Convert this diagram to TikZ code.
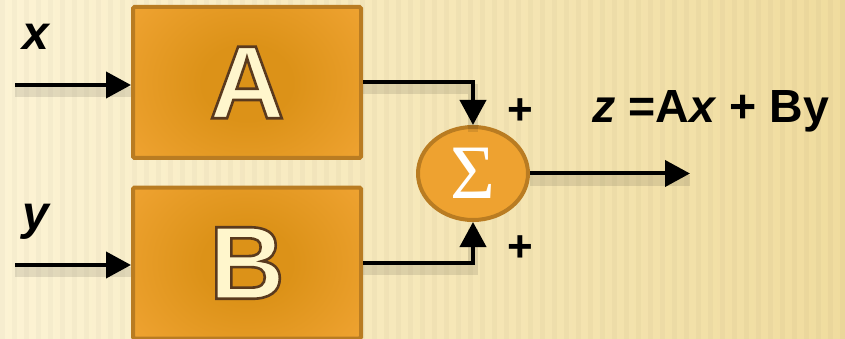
\documentclass[tikz,border=0pt]{standalone}
\usepackage{fontspec}
\setmainfont{Liberation Sans}
\newfontfamily\greekserif{Liberation Serif}
\usetikzlibrary{arrows.meta,shapes.geometric}
\definecolor{bgL}{HTML}{FCF3D4}
\definecolor{bgR}{HTML}{F0DC9E}
\definecolor{boxfill}{HTML}{EEA230}
\definecolor{boxline}{HTML}{B97C22}
\definecolor{glow}{HTML}{DC9218}
\definecolor{lettercol}{HTML}{FFF6CC}
\newcommand{\outlined}[1]{{\color{lettercol}\special{pdf:literal direct 2 Tr 2.6 w 0.353 0.227 0.118 RG}#1\special{pdf:literal direct 0 Tr}}}
\pgfdeclareradialshading{glowshade}{\pgfpoint{0bp}{0bp}}{color(0bp)=(glow); color(8bp)=(glow); color(25bp)=(boxfill); color(50bp)=(boxfill)}
\tikzset{
  blockbox/.style={draw=boxline, line width=4pt, fill=boxfill, rounded corners=1.5pt,
    minimum width=228pt, minimum height=151pt, inner sep=0pt,
    path picture={\shade[shading=glowshade]
      (path picture bounding box.center) ellipse (140pt and 118pt);},
    font=\bfseries\fontsize{104}{104}\selectfont},
  sumnode/.style={ellipse, draw=boxline, line width=4pt, fill=boxfill,
    minimum width=110pt, minimum height=93pt, inner sep=0pt,
    text=white, font=\greekserif\fontsize{77}{77}\selectfont},
  conn/.style={line width=4pt, -{Triangle[length=25pt,width=26pt]}},
  connshadow/.style={line width=10pt, black, opacity=0.10, transform canvas={yshift=-7pt}},
  lbl/.style={inner sep=0pt, font=\bfseries\itshape\fontsize{48}{48}\selectfont},
  eq/.style={inner sep=0pt, font=\bfseries\fontsize{46.5}{46.5}\selectfont},
  plus/.style={inner sep=0pt, font=\bfseries\fontsize{44}{44}\selectfont}
}
\begin{document}
\begin{tikzpicture}[x=1pt,y=-1pt]
\useasboundingbox (0,0) rectangle (845,339);
\clip (0,0) rectangle (845,339);
\shade[left color=bgL, right color=bgR] (0,0) rectangle (845,339);
\foreach \i in {0,12,...,840} \fill[black, opacity=0.025] (\i,0) rectangle ++(5,339);

\node[blockbox] (A) at (247,82.5) {\outlined{A}};
\node[blockbox] (B) at (247,263) {\outlined{B}};
\node[sumnode] (S) at (473,173.5) {Σ};

\coordinate (xin) at (15,85);
\coordinate (yin) at (15,265);
\coordinate (zout) at (690,173.5);

% shadows
\draw[connshadow] (xin) -- (A.west |- xin);
\draw[connshadow] (yin) -- (B.west |- yin);
\draw[connshadow] (S.east) -- (zout);
\draw[connshadow] (A.east) -| (S.north);
\draw[connshadow] (B.east) -| (S.south);

% connectors
\draw[conn] (xin) -- (A.west |- xin);
\draw[conn] (yin) -- (B.west |- yin);
\draw[conn] (A.east) -| (S.north);
\draw[conn] (B.east) -| (S.south);
\draw[conn] (S.east) -- (zout);

% labels
\node[lbl, anchor=base west] (lx) at (22,50) {x};
\node[lbl, anchor=base west] (ly) at (22,229) {y};
\node[plus, anchor=base] (p1) at (520,125) {+};
\node[plus, anchor=base] (p2) at (520,261) {+};
\node[eq, anchor=base west] (zeq) at (592,123) {\textit{z} =A\textit{x} + By};
\end{tikzpicture}
\end{document}
